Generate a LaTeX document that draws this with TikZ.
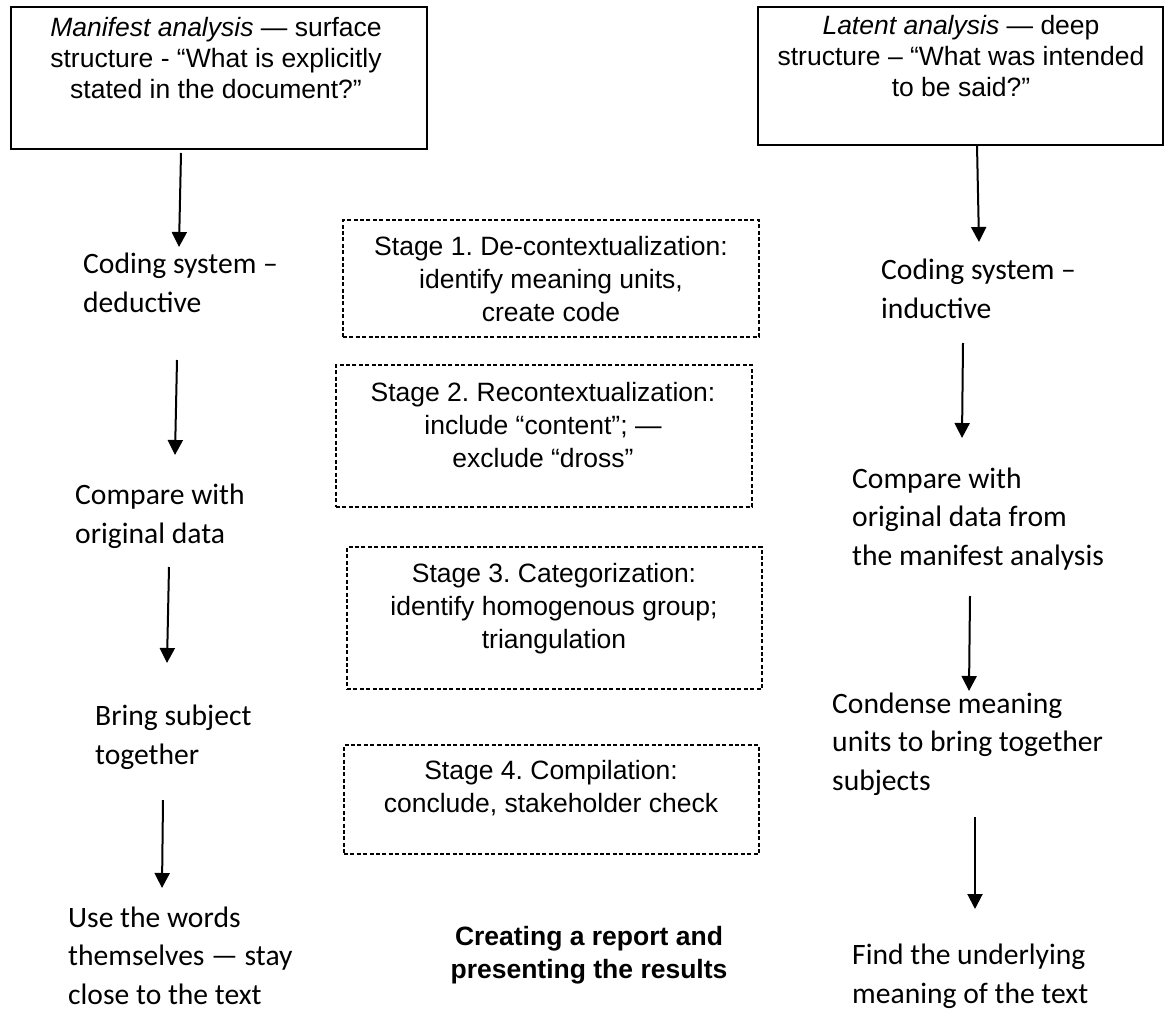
\documentclass[tikz,border=0pt]{standalone}
\usepackage{fontspec}
\setmainfont{Liberation Sans}
\newfontfamily\calibrifont{Carlito}
\usetikzlibrary{arrows.meta}
\frenchspacing

\begin{document}
\begin{tikzpicture}[x=1pt,y=-1pt,
  solidbox/.style={draw=black, line width=1.5pt, rectangle, inner sep=0pt},
  stagebox/.style={draw=black, line width=1.1pt, dash pattern=on 4pt off 2.4pt, rectangle, inner sep=0pt},
  boxtext/.style={anchor=base, align=center, inner sep=0pt, font=\fontsize{26.5}{31}\selectfont},
  stagetext/.style={anchor=base, align=center, inner sep=0pt, font=\fontsize{26.5}{33}\selectfont},
  sidetext/.style={anchor=base west, align=left, inner sep=0pt, font=\calibrifont\fontsize{29.6}{38.5}\selectfont},
  reporttext/.style={anchor=base, align=center, inner sep=0pt, font=\bfseries\fontsize{26.5}{33}\selectfont},
  flow/.style={draw=black, line width=2pt, -{Triangle[width=15pt,length=15pt]}}]

% canvas
\useasboundingbox (0,0) rectangle (1170,1011);

% headline boxes (text nodes are placed by the baseline of their last line)
\node[solidbox, minimum width=416pt, minimum height=142pt] (mbox) at (219,78) {};
\node[boxtext] (mtext) at (216,99) {\textit{Manifest analysis} — surface\\structure - “What is explicitly\\stated in the document?”};
\node[solidbox, minimum width=405pt, minimum height=138pt] (lbox) at (960.5,76) {};
\node[boxtext] (ltext) at (961,97) {\textit{Latent analysis} — deep\\structure – “What was intended\\to be said?”};

% the four stages
\node[stagebox, minimum width=416pt, minimum height=117pt] (s1) at (551,278.5) {};
\node[stagetext] (s1t) at (551,321) {Stage 1. De-contextualization:\\identify meaning units,\\create code};
\node[stagebox, minimum width=416pt, minimum height=142pt] (s2) at (544,436) {};
\node[stagetext] (s2t) at (543,467) {Stage 2. Recontextualization:\\include “content”; —\\exclude “dross”};
\node[stagebox, minimum width=415pt, minimum height=142pt] (s3) at (554.5,618) {};
\node[stagetext] (s3t) at (554,648) {Stage 3. Categorization:\\identify homogenous group;\\triangulation};
\node[stagebox, minimum width=415pt, minimum height=109pt] (s4) at (551.5,799.5) {};
\node[stagetext] (s4t) at (551,812) {Stage 4. Compilation:\\conclude, stakeholder check};

\node[reporttext] (report) at (589,978) {Creating a report and\\presenting the results};

% manifest column
\node[sidetext] (l1) at (83,312) {Coding system –\\deductive};
\node[sidetext] (l2) at (75,543) {Compare with\\original data};
\node[sidetext] (l3) at (95,764) {Bring subject\\together};
\node[sidetext] (l4) at (68,1004) {Use the words\\themselves — stay\\close to the text};

% latent column
\node[sidetext] (r1) at (881,318) {Coding system –\\inductive};
\node[sidetext] (r2) at (852,565) {Compare with\\original data from\\the manifest analysis};
\node[sidetext] (r3) at (832,790) {Condense meaning\\units to bring together\\subjects};
\node[sidetext] (r4) at (852,1003) {Find the underlying\\meaning of the text};

% arrow ends
\coordinate (la1s) at (181,153); \coordinate (la1e) at (179,247);
\coordinate (la2s) at (177,360); \coordinate (la2e) at (175,455);
\coordinate (la3s) at (169,567); \coordinate (la3e) at (167,663);
\coordinate (la4s) at (163,800); \coordinate (la4e) at (162,888);
\coordinate (ra1s) at (977,145); \coordinate (ra1e) at (979,242);
\coordinate (ra2s) at (963,343); \coordinate (ra2e) at (962,438);
\coordinate (ra3s) at (970,596); \coordinate (ra3e) at (969,691);
\coordinate (ra4s) at (975,817); \coordinate (ra4e) at (975,909);

\draw[flow] (la1s) -- (la1e);
\draw[flow] (la2s) -- (la2e);
\draw[flow] (la3s) -- (la3e);
\draw[flow] (la4s) -- (la4e);
\draw[flow] (ra1s) -- (ra1e);
\draw[flow] (ra2s) -- (ra2e);
\draw[flow] (ra3s) -- (ra3e);
\draw[flow] (ra4s) -- (ra4e);
\end{tikzpicture}
\end{document}
